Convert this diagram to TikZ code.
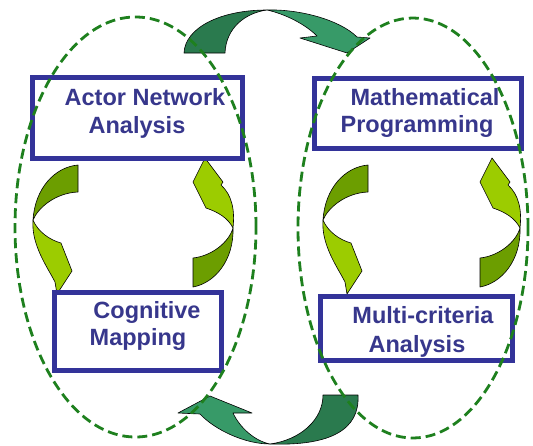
\documentclass[tikz,border=0pt]{standalone}
\usepackage{fontspec}
\setmainfont{Liberation Sans}
\definecolor{ellc}{RGB}{30,128,30}
\definecolor{boxc}{RGB}{51,51,153}
\definecolor{txtc}{RGB}{55,55,140}
\definecolor{olivec}{RGB}{108,158,0}
\definecolor{limec}{RGB}{156,204,0}
\definecolor{dkgrc}{RGB}{42,122,78}
\definecolor{ltgrc}{RGB}{55,154,104}
\begin{document}
\begin{tikzpicture}[x=1pt,y=-1pt,
  ell/.style={draw=ellc, line width=2.8pt, dash pattern=on 10pt off 5pt},
  box/.style={draw=boxc, line width=5pt, fill=white, inner sep=0pt},
  lbl/.style={text=txtc, font=\fontsize{23.5}{28}\selectfont\bfseries, anchor=base, inner sep=0pt},
  olive/.style={fill=olivec, draw=black, line width=0.6pt, line join=round},
  lime/.style={fill=limec, draw=black, line width=0.6pt, line join=round},
  dkgr/.style={fill=dkgrc, draw=black, line width=0.6pt, line join=round},
  ltgr/.style={fill=ltgrc, draw=black, line width=0.6pt, line join=round}]
\useasboundingbox (0,0) rectangle (533,445);
% top big arrow
\draw[dkgr] (184,53) .. controls (185,28) and (220,10) .. (267,10) .. controls (245,13) and (226,28) .. (225,53) -- cycle;
\draw[ltgr] (267,10) .. controls (300,9) and (340,20) .. (357,37) -- (370,38) -- (347,53) -- (300,38) -- (317,36) .. controls (305,24) and (285,14) .. (267,10) -- cycle;
% bottom big arrow
\draw[dkgr] (358,395) .. controls (360,430) and (330,446) .. (270,444) .. controls (300,440) and (323,420) .. (323,395) -- cycle;
\draw[ltgr] (270,444) .. controls (245,444) and (215,430) .. (200,414) -- (178,413) -- (210,396) -- (252,413) -- (233,413) .. controls (240,428) and (255,441) .. (270,444) -- cycle;
% light arrows, left ellipse and (shifted) right ellipse
\foreach \dx/\ex in {0/0, 290/287}{
  \begin{scope}[xshift=\dx pt]
    \draw[olive] (78,165) .. controls (55,167) and (35,188) .. (33,220) .. controls (38,208) and (55,193) .. (78,192) -- cycle;
    \draw[lime] (33,220) .. controls (31,245) and (48,268) .. (55,282) -- (57,294) -- (72,271) -- (61,243) .. controls (50,240) and (38,232) .. (33,220) -- cycle;
  \end{scope}
  \begin{scope}[xshift=\ex pt]
    \draw[olive] (193,287) .. controls (215,283) and (234,260) .. (233,228) .. controls (229,242) and (212,256) .. (193,258) -- cycle;
    \draw[lime] (233,228) .. controls (235,210) and (232,195) .. (221,185) -- (223,182) -- (205,158) -- (193,182) -- (206,208) .. controls (218,212) and (228,218) .. (233,228) -- cycle;
  \end{scope}
}
% boxes
\node[box, minimum width=210pt, minimum height=81pt] (ana) at (137.5,118) {};
\node[box, minimum width=207pt, minimum height=70pt] (mp) at (418,113.5) {};
\node[box, minimum width=167pt, minimum height=78pt] (cm) at (138,331.5) {};
\node[box, minimum width=192pt, minimum height=64pt] (mca) at (416.5,328.5) {};
% labels
\node[lbl] (anaA) at (145,105) {Actor Network};
\node[lbl] (anaB) at (137,133) {Analysis};
\node[lbl] (mpA) at (425,105) {Mathematical};
\node[lbl] (mpB) at (417,132) {Programming};
\node[lbl] (cmA) at (147,318) {Cognitive};
\node[lbl] (cmB) at (138,345) {Mapping};
\node[lbl] (mcaA) at (423,323) {Multi-criteria};
\node[lbl] (mcaB) at (417,352) {Analysis};
% ellipses
\draw[ell] (135.5,227) ellipse [x radius=120.5pt, y radius=210pt];
\draw[ell] (413,228) ellipse [x radius=115pt, y radius=210pt];
\end{tikzpicture}
\end{document}
